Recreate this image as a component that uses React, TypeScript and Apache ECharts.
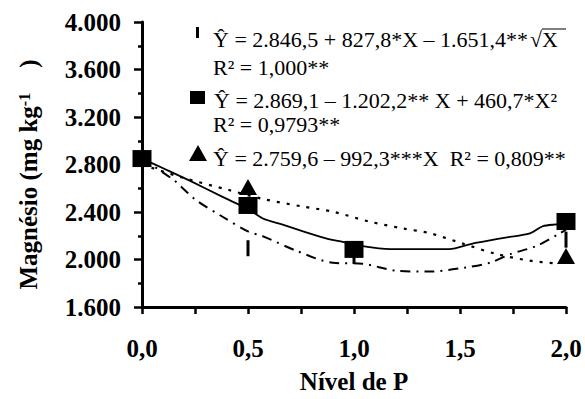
import React, { useEffect, useRef } from 'react';
import * as echarts from 'echarts';

// Observed means
const barX = [0, 0.5, 1.0, 2.0];
const barY = [2846, 2095, 2030, 2167];
const squareX = [0, 0.5, 1.0, 2.0];
const squareY = [2850, 2455, 2085, 2320];
const triangleX = [0, 0.5, 2.0];
const triangleY = [2850, 2610, 2030];

// Fitted curves
const solidX = [0, 0.11, 0.22, 0.38, 0.5, 0.57, 0.66, 0.76, 0.88, 0.93, 1.04, 1.17, 1.3, 1.45, 1.55, 1.7, 1.83, 1.89, 1.97, 2.0];
const solidY = [2850, 2760, 2668, 2527, 2425, 2345, 2295, 2237, 2171, 2155, 2113, 2088, 2088, 2088, 2130, 2180, 2220, 2280, 2300, 2320];
const dashDotX = [0, 0.15, 0.255, 0.38, 0.5, 0.57, 0.73, 0.9, 1.04, 1.2, 1.36, 1.52, 1.64, 1.74, 1.86, 1.97, 2.0];
const dashDotY = [2850, 2668, 2500, 2360, 2237, 2196, 2072, 1972, 1964, 1906, 1898, 1931, 1972, 2047, 2113, 2220, 2250];
const dottedX = [0, 0.19, 0.41, 0.57, 0.76, 0.9, 1.07, 1.23, 1.36, 1.52, 1.67, 1.83, 1.96];
const dottedY = [2800, 2690, 2585, 2510, 2445, 2403, 2320, 2262, 2220, 2130, 2047, 1990, 1965];

const eq1 = 'Ŷ = 2.846,5 + 827,8*X – 1.651,4**';
const eq1sqrt = '√X';
const eq1r = 'R² = 1,000**';
const eq2 = 'Ŷ = 2.869,1 – 1.202,2** X + 460,7*X²';
const eq2r = 'R² = 0,9793**';
const eq3 = 'Ŷ = 2.759,6 – 992,3***X  R² = 0,809**';

const FONT = 'Times New Roman, Liberation Serif, serif';

const pairs = (xs: number[], ys: number[]) => xs.map((x, i) => [x, ys[i]]);

export default function App() {
  const ref = useRef<HTMLDivElement>(null);
  useEffect(() => {
    const chart = echarts.init(ref.current!, null, { renderer: 'svg' });
    const txt = (x: number, y: number, text: string) => ({
      type: 'text', x, y,
      style: { text, fontFamily: FONT, fontSize: 22, fill: '#000', verticalAlign: 'middle', align: 'left' },
    });
    chart.setOption({
      animation: false,
      backgroundColor: '#fff',
      grid: { left: 142, right: 19, top: 22, bottom: 87 },
      xAxis: {
        type: 'value', min: 0, max: 2, interval: 0.25,
        axisLine: { show: true, lineStyle: { color: '#000', width: 3 } },
        axisTick: { show: true, length: 7, lineStyle: { color: '#000', width: 2.5 } },
        splitLine: { show: false },
        axisLabel: {
          showMaxLabel: true, showMinLabel: true,
          formatter: (v: number) => (Math.abs(v * 2 - Math.round(v * 2)) < 1e-6 ? v.toFixed(1).replace('.', ',') : ''),
          margin: 29, fontFamily: FONT, fontWeight: 'bold', fontSize: 25, color: '#000',
        },
        name: 'Nível de P', nameLocation: 'middle', nameGap: 62,
        nameTextStyle: { fontFamily: FONT, fontWeight: 'bold', fontSize: 25, color: '#000' },
      },
      yAxis: {
        type: 'value', min: 1600, max: 4000, interval: 400,
        axisLine: { show: true, lineStyle: { color: '#000', width: 3 } },
        axisTick: { show: true, length: 8, lineStyle: { color: '#000', width: 2.5 } },
        minorTick: { show: true, splitNumber: 2, length: 4, lineStyle: { color: '#000', width: 2.5 } },
        splitLine: { show: false },
        minorSplitLine: { show: false },
        axisLabel: {
          formatter: (v: number) => (v / 1000).toFixed(3),
          margin: 21, fontFamily: FONT, fontWeight: 'bold', fontSize: 25, color: '#000',
        },
        name: '{a|Magnésio (mg kg}{s|-1}{a|    )}', nameLocation: 'middle', nameGap: 101, nameRotate: 90,
        nameTextStyle: {
          color: '#000',
          padding: [0, 20, 0, 0],
          rich: {
            a: { fontFamily: FONT, fontWeight: 'bold', fontSize: 25, color: '#000' },
            s: { fontFamily: FONT, fontWeight: 'bold', fontSize: 16, color: '#000', verticalAlign: 'top' },
          },
        },
      },
      series: [
        { type: 'line', data: pairs(solidX, solidY), symbol: 'none', smooth: 0.3, lineStyle: { color: '#000', width: 1.8 }, z: 2 },
        { type: 'line', data: pairs(dashDotX, dashDotY), symbol: 'none', smooth: 0.3, lineStyle: { color: '#000', width: 2, type: [10, 6, 2, 6] }, z: 2 },
        { type: 'line', data: pairs(dottedX, dottedY), symbol: 'none', smooth: 0.3, lineStyle: { color: '#000', width: 2.2, type: [3, 7] }, z: 2 },
        { type: 'scatter', data: pairs(barX, barY), symbol: 'rect', symbolSize: [3, 16], itemStyle: { color: '#000', opacity: 1 }, z: 3 },
        { type: 'scatter', data: pairs(triangleX, triangleY), symbol: 'triangle', symbolSize: [18, 16], itemStyle: { color: '#000', opacity: 1 }, z: 4 },
        { type: 'scatter', data: pairs(squareX, squareY), symbol: 'rect', symbolSize: [19, 17], itemStyle: { color: '#000', opacity: 1 }, z: 5 },
      ],
      graphic: [
        { type: 'rect', shape: { x: 196, y: 27, width: 3, height: 11 }, style: { fill: '#000' } },
        { type: 'rect', shape: { x: 190, y: 91, width: 15, height: 13 }, style: { fill: '#000' } },
        { type: 'polygon', shape: { points: [[189, 161], [207, 161], [198, 145]] }, style: { fill: '#000' } },
        txt(213, 39, eq1),
        txt(530, 39, eq1sqrt),
        { type: 'line', shape: { x1: 542, y1: 29, x2: 566, y2: 29 }, style: { stroke: '#000', lineWidth: 1 } },
        txt(213, 67, eq1r),
        txt(214, 100, eq2),
        txt(213, 124, eq2r),
        txt(213, 158, eq3),
      ],
    });
    return () => chart.dispose();
  }, []);
  return <div ref={ref} style={{ position: 'fixed', left: 0, top: 0, width: 585, height: 399, background: '#fff' }} />;
}
